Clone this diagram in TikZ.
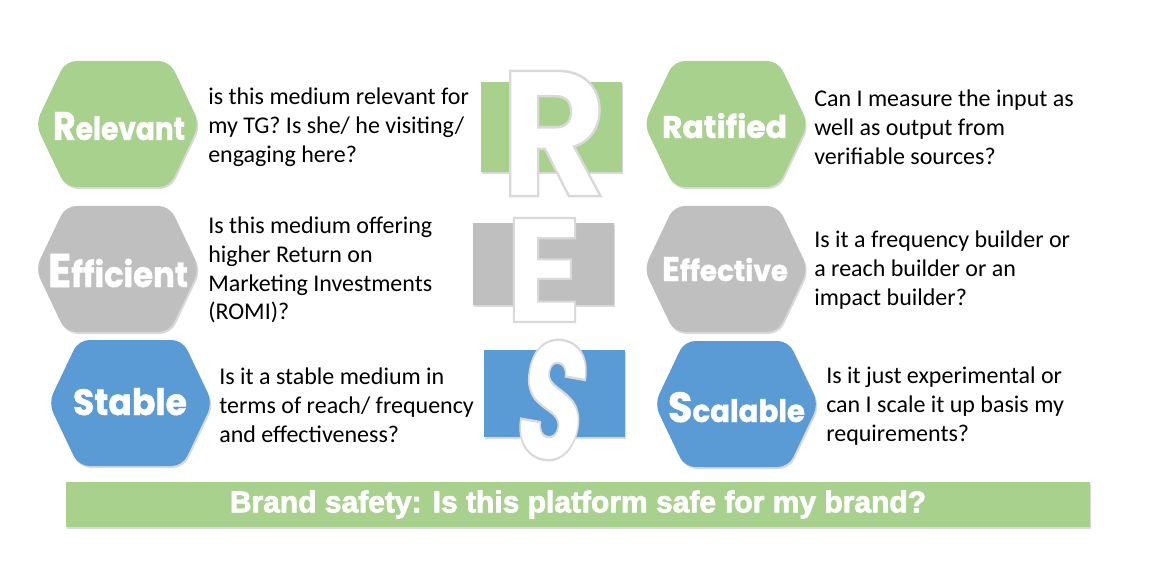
\documentclass[tikz,border=0pt]{standalone}
\usepackage{fontspec}
\setmainfont{Carlito}
\newfontfamily\headfont{Poppins}[BoldFeatures={FakeBold=1.2}]
\newfontfamily\letterfont{Poppins}[BoldFeatures={FakeBold=1.4}]
\newfontfamily\bannerfont{Liberation Sans}[BoldFeatures={FakeBold=2.5}]
\usetikzlibrary{shadows}

\definecolor{resgreen}{HTML}{A9D18E}
\definecolor{resgray}{HTML}{BFBFBF}
\definecolor{resblue}{HTML}{5B9BD5}

\newcommand{\initial}[2]{{\fontsize{#1}{#1}\selectfont #2}}
\newcommand{\fitbox}[3]{\resizebox{#1pt}{#2pt}{#3}}
% white letter with a grey rim (stroke colour only)
\newcommand{\rimmed}[1]{\special{pdf:literal direct 0.85 G}#1}

\tikzset{
  hexcell/.style={rounded corners=8pt, drop shadow={opacity=0.3, shadow xshift=1pt, shadow yshift=-1.5pt}},
  boxcell/.style={drop shadow={opacity=0.3, shadow xshift=1pt, shadow yshift=-1.5pt}},
  hexlabel/.style={anchor=base, inner sep=0pt, text=white, font=\headfont\bfseries},
  question/.style={anchor=west, inner sep=0pt, align=left, font=\fontsize{18}{21.6}\selectfont},
  bigletter/.style={inner sep=0pt, text=white, font=\letterfont\bfseries\fontsize{100}{100}\selectfont},
}

\begin{document}
\begin{tikzpicture}[x=0.75pt, y=-0.75pt]
    \useasboundingbox (0,0) rectangle (1157,574);

    % hexagons
    \foreach \cx/\cy/\col in {117.5/124/resgreen, 726/124/resgreen,
                             117.5/269/resgray, 726/269/resgray,
                             130.5/403/resblue, 736.5/404/resblue}
      \fill[\col, hexcell] (\cx-82,\cy) -- ++(30,-63) -- ++(104,0) -- ++(30,63)
                           -- ++(-30,63) -- ++(-104,0) -- cycle;

    \node[hexlabel] (relevant) at (119,140) {\fitbox{99}{21}{\initial{30}{R}\initial{24}{elevant}}};
    \node[hexlabel] (ratified) at (724.5,138) {\fitbox{93.75}{18.75}{Ratified}};
    \node[hexlabel] (efficient) at (118,287) {\fitbox{105}{24.75}{\initial{32}{E}\initial{24}{fficient}}};
    \node[hexlabel] (effective) at (725,281) {\fitbox{94.5}{18}{\initial{26}{E}\initial{22}{ffective}}};
    \node[hexlabel] (stable) at (130,415) {\fitbox{85.5}{20.25}{Stable}};
    \node[hexlabel] (scalable) at (736.5,422) {\fitbox{102.75}{22.5}{\initial{30}{S}\initial{22}{calable}}};

    \node[question] (relevantq) at (208,127) {is this medium relevant for\\my TG? Is she/ he visiting/\\engaging here?};
    \node[question] (ratifiedq) at (814,127) {Can I measure the input as\\well as output from\\verifiable sources?};
    \node[question] (efficientq) at (208,270) {Is this medium offering\\higher Return on\\Marketing Investments\\(ROMI)?};
    \node[question] (effectiveq) at (814,270) {Is it a frequency builder or\\a reach builder or an\\impact builder?};
    \node[question] (stableq) at (219,405) {Is it a stable medium in\\terms of reach/ frequency\\and effectiveness?};
    \node[question] (scalableq) at (826,406) {Is it just experimental or\\can I scale it up basis my\\requirements?};

    % R E S
    \fill[resgreen, boxcell] (481,82) rectangle (622,172);
    \fill[resgray, boxcell] (473,223) rectangle (614,305);
    \fill[resblue, boxcell] (484,350) rectangle (625,437);

    \node[bigletter] (R) at (553.5,133.5) {\fitbox{80.25}{94}{\rimmed{R}}};
    \node[bigletter] (E) at (543.5,270) {\fitbox{57.75}{78}{\rimmed{E}}};
    \node[bigletter, rotate=-10] (S) at (553.5,400) {\fitbox{50.25}{90}{\rimmed{S}}};

    % banner
    \node[fill=resgreen, boxcell, minimum width=768pt, minimum height=33.75pt, inner sep=0pt,
          text=white, font=\bannerfont\bfseries\fontsize{22.5}{22.5}\selectfont] (banner) at (578,504.5)
          {Brand safety: Is this platform safe for my brand?};
\end{tikzpicture}
\end{document}
